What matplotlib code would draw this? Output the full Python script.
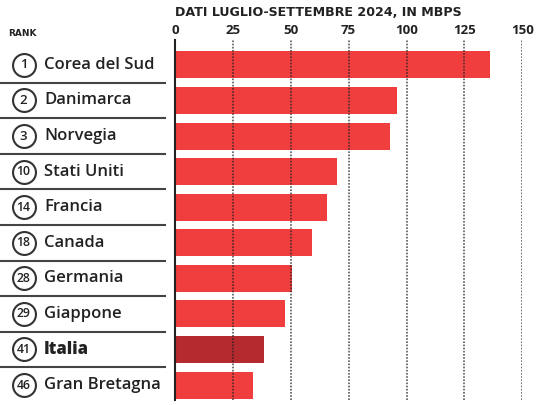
import matplotlib.pyplot as plt
from matplotlib.transforms import blended_transform_factory

# velocita media della banda larga fissa, luglio-settembre 2024
paesi = ['Corea del Sud', 'Danimarca', 'Norvegia', 'Stati Uniti', 'Francia',
         'Canada', 'Germania', 'Giappone', 'Italia', 'Gran Bretagna']
rank = [1, 2, 3, 10, 14, 18, 28, 29, 41, 46]
mbps = [136.1, 95.8, 92.9, 70.1, 65.8, 59.0, 50.4, 47.5, 38.4, 33.8]
tick_vals = [0, 25, 50, 75, 100, 125, 150]

ROSSO = '#f03e3f'
ROSSO_SCURO = '#b52a2e'
SCURO = '#222222'

plt.rcParams['font.family'] = ['Open Sans', 'DejaVu Sans']

W, H = 536, 405
fig = plt.figure(figsize=(W / 100, H / 100), dpi=100)
fig.patch.set_facecolor('white')

x0, x1 = 175, 522.3
ytop, ybot = 40, 400
ax = fig.add_axes([x0 / W, (H - ybot) / H, (x1 - x0) / W, (ybot - ytop) / H])

n = len(paesi)
ypos = list(range(n))
colori = [ROSSO_SCURO if p == 'Italia' else ROSSO for p in paesi]
ax.barh(ypos, mbps, height=0.76, color=colori, zorder=2)

ax.set_xlim(0, 150)
ax.set_ylim(n - 1 + 0.42, -0.70)

for v in tick_vals[1:]:
    ax.axvline(v, color=SCURO, lw=1.2, ls=(0, (1.0, 0.9)), alpha=0.75, zorder=3)

for s in ['top', 'right', 'bottom']:
    ax.spines[s].set_visible(False)
ax.spines['left'].set_color(SCURO)
ax.spines['left'].set_linewidth(1.5)
ax.spines['left'].set_zorder(4)

ax.xaxis.tick_top()
ax.set_xticks(tick_vals)
ax.set_xticklabels([str(v) for v in tick_vals], fontsize=9.5,
                   fontweight='bold', color=SCURO)
ax.tick_params(axis='x', length=0, pad=2)
ax.set_yticks([])

# colonna di sinistra: cerchietto col rank, nome del paese, righe di separazione
lab = blended_transform_factory(fig.transFigure, ax.transData)
for i, (p, r) in enumerate(zip(paesi, rank)):
    ax.plot([23.5 / W], [i], marker='o', ms=16.5, mfc='white', mec='#333333',
            mew=1.5, transform=lab, clip_on=False)
    ax.text(23.5 / W, i, str(r), transform=lab, ha='center', va='center',
            fontsize=9.5 if r < 10 else 8.8, color=SCURO,
            fontweight='semibold')
    ax.text(44 / W, i, p, transform=lab, ha='left', va='center',
            fontsize=12, color=SCURO,
            fontweight='heavy' if p == 'Italia' else 'semibold')
    if i < n - 1:
        ax.plot([0, 165 / W], [i + 0.5, i + 0.5], color='#444444', lw=1.5,
                transform=lab, clip_on=False)

fig.text(x0 / W, 1 - 13 / H, 'DATI LUGLIO-SETTEMBRE 2024, IN MBPS',
         ha='left', va='center', fontsize=9.1, fontweight='bold', color=SCURO,
         family='DejaVu Sans')
fig.text(8 / W, 1 - 33 / H, 'RANK', ha='left', va='center', fontsize=6.5,
         fontweight='bold', color=SCURO, family='DejaVu Sans')

fig.savefig('out.png', dpi=100, facecolor='white')
